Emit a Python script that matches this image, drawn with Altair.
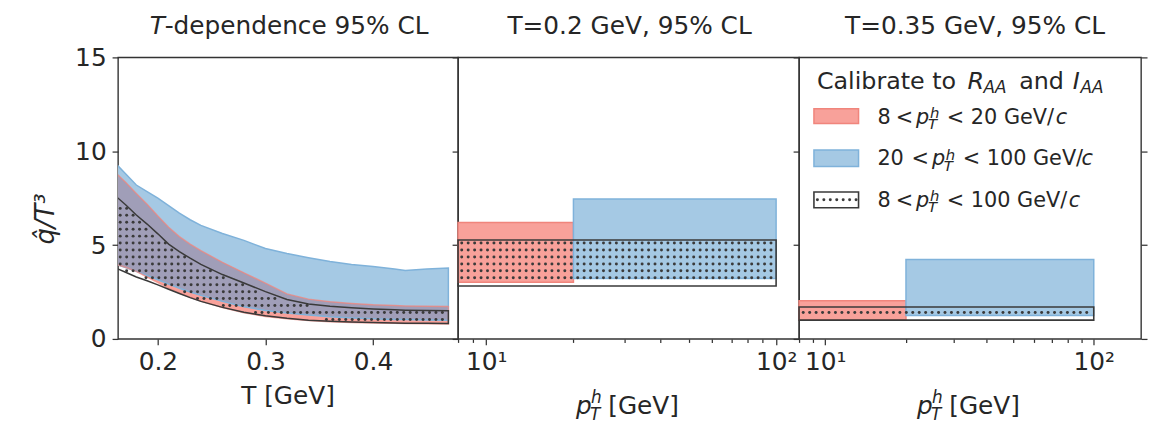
import altair as alt
import numpy as np
import pandas as pd

FONT = "DejaVu Sans"
TXT = "#262626"
FRAME = "#333333"
BLUE_FILL = "#a5c9e4"
BLUE_EDGE = "#7fb2da"
RED_FILL = "#f8a19a"
RED_EDGE = "#f0857c"
OVERLAP = "#a09eb8"
DARK = "#3a3a3a"

W1, W2, W3, H = 343, 344, 345, 284
Y_DOMAIN = [0, 15]
X1_DOMAIN = [0.163, 0.479]
X2_DOMAIN = [8, 120]
X3_DOMAIN = [8, 150]

# ---- panel 1: T dependence (95% CL bands) ----
T = [0.16, 0.17, 0.18, 0.19, 0.20, 0.21, 0.22, 0.23, 0.24, 0.26, 0.28,
     0.30, 0.32, 0.34, 0.36, 0.38, 0.40, 0.42, 0.43, 0.45, 0.47]
blue_hi = [9.4, 8.8, 8.2, 7.85, 7.5, 7.1, 6.7, 6.35, 6.05, 5.62, 5.25,
           4.82, 4.55, 4.33, 4.12, 3.97, 3.86, 3.72, 3.65, 3.73, 3.78]
blue_lo = [4.0, 3.8, 3.6, 3.38, 3.15, 2.92, 2.7, 2.5, 2.32, 2.0, 1.72,
           1.52, 1.38, 1.27, 1.18, 1.12, 1.07, 1.04, 1.03, 1.01, 1.0]
red_hi = [8.9, 8.35, 7.75, 7.18, 6.55, 5.95, 5.45, 5.05, 4.7, 4.08, 3.52,
          2.97, 2.4, 2.12, 1.98, 1.89, 1.82, 1.78, 1.76, 1.74, 1.73]
red_lo = [4.0, 3.82, 3.6, 3.3, 3.0, 2.7, 2.45, 2.22, 2.02, 1.67, 1.4,
          1.2, 1.07, 0.98, 0.92, 0.88, 0.85, 0.83, 0.82, 0.81, 0.8]
all_hi = [7.65, 7.15, 6.6, 6.12, 5.6, 5.05, 4.65, 4.3, 3.97, 3.43, 2.98,
          2.52, 2.1, 1.86, 1.74, 1.66, 1.6, 1.55, 1.53, 1.51, 1.5]
all_lo = [3.8, 3.55, 3.3, 3.1, 2.88, 2.65, 2.42, 2.2, 2.0, 1.68, 1.42,
          1.23, 1.1, 1.0, 0.94, 0.9, 0.87, 0.85, 0.84, 0.83, 0.82]

# ---- panels 2 and 3: pT bins ----
series = ["8-20", "20-100", "8-100"]
bin_lo = [8, 20, 8]
bin_hi = [20, 100, 100]
low_02 = [3.02, 3.22, 2.82]
high_02 = [6.2, 7.45, 5.27]
low_035 = [1.02, 1.25, 1.0]
high_035 = [2.03, 4.23, 1.7]

ONE = pd.DataFrame({"k": [0]})

df1 = pd.DataFrame(dict(T=T, bhi=blue_hi, blo=blue_lo, rhi=red_hi, rlo=red_lo,
                        khi=all_hi, klo=all_lo))
df1["ohi"] = np.minimum(df1.bhi, df1.rhi)
df1["olo"] = np.maximum(df1.blo, df1.rlo)

ys = alt.Scale(domain=Y_DOMAIN, nice=False, zero=False)


def axis_common(**kw):
    base = dict(title=None, grid=False, domain=False, tickColor=FRAME,
                tickWidth=1.25, labelFont=FONT, labelFontSize=25,
                labelColor=TXT)
    base.update(kw)
    return alt.Axis(**base)


yaxis_labels = axis_common(values=[0, 5, 10, 15], tickSize=6, labelPadding=6)
yaxis_ticks = axis_common(values=[0, 5, 10, 15], tickSize=6, labels=False)
yaxis_right = axis_common(values=[0, 5, 10, 15], tickSize=6, labels=False,
                          orient="right")
xaxis1 = axis_common(values=[0.2, 0.3, 0.4], format=".1f", tickSize=6,
                     labelPadding=5)
log_ticks = [8, 9, 10, 20, 30, 40, 50, 60, 70, 80, 90, 100]
xaxis_log = axis_common(
    values=log_ticks,
    labelExpr="datum.value == 10 ? '10\u00b9' : datum.value == 100 ? '10\u00b2' : ''",
    tickSize={"condition": {"test": "datum.value == 10 || datum.value == 100",
                            "value": 6}, "value": 3.5},
    labelPadding=5, labelOverlap=False)


def py_to_val(py):
    return Y_DOMAIN[1] * (1 - py / H)


def hatch(left, W, px2x, lo_fn, hi_fn, xmin, xmax):
    pts = []
    xs_img = np.arange(461.7 - 6.5 * 60, 1150, 6.5)
    xs_img = xs_img[(xs_img > left + 1.5) & (xs_img < left + W - 1.5)]
    eps = 1.6 / (H / Y_DOMAIN[1])
    for yi in np.arange(61.3, 340, 7.0):
        v = py_to_val(yi - 56)
        for xi in xs_img:
            xv = px2x(xi - left)
            if xmin < xv < xmax and lo_fn(xv) + eps < v < hi_fn(xv) - eps:
                pts.append((xv, v))
    return pd.DataFrame(pts, columns=["xv", "yv"])


def lin_conv(d, W):
    return lambda px: d[0] + px / W * (d[1] - d[0])


def log_conv(d, W):
    a, b = np.log10(d[0]), np.log10(d[1])
    return lambda px: 10 ** (a + px / W * (b - a))


def txt(s, x, y, size=25, italic=False, align="left", angle=0):
    return alt.Chart(ONE).mark_text(
        text=s, font=FONT, fontSize=size,
        fontStyle="italic" if italic else "normal", align=align,
        baseline="alphabetic", color=TXT, angle=angle
    ).encode(x=alt.value(x), y=alt.value(y))


def pt_title():
    return [
        txt("p", 119, 359.5, 25, True),
        txt("h", 134, 349, 17, True),
        txt("T", 133, 365.7, 17, True),
        txt("[GeV]", 151.5, 359.5, 25),
    ]


DOT_SIZE = 9

# ---------------- panel 1 ----------------
xs1 = alt.Scale(domain=X1_DOMAIN, nice=False, zero=False)
b1 = alt.Chart(df1)
p1_layers = [
    b1.mark_area(fill=BLUE_FILL, clip=True).encode(
        x=alt.X("T:Q", scale=xs1, axis=xaxis1),
        y=alt.Y("bhi:Q", scale=ys, axis=yaxis_labels), y2="blo:Q"),
    b1.mark_area(fill=RED_FILL, clip=True).encode(
        x=alt.X("T:Q", scale=xs1, axis=None),
        y=alt.Y("rhi:Q", scale=ys, axis=None), y2="rlo:Q"),
    b1.mark_area(fill=OVERLAP, clip=True).encode(
        x=alt.X("T:Q", scale=xs1, axis=None),
        y=alt.Y("ohi:Q", scale=ys, axis=None), y2="olo:Q"),
    b1.mark_area(fillOpacity=0, fill="white", stroke=BLUE_EDGE, strokeWidth=1.5,
                 clip=True).encode(
        x=alt.X("T:Q", scale=xs1, axis=None),
        y=alt.Y("bhi:Q", scale=ys, axis=None), y2="blo:Q"),
    b1.mark_area(fillOpacity=0, fill="white", stroke=RED_EDGE, strokeOpacity=0.7,
                 strokeWidth=1.5, clip=True).encode(
        x=alt.X("T:Q", scale=xs1, axis=None),
        y=alt.Y("rhi:Q", scale=ys, axis=None), y2="rlo:Q"),
]
dots1 = hatch(115, W1, lin_conv(X1_DOMAIN, W1),
              lambda t: np.interp(t, T, all_lo), lambda t: np.interp(t, T, all_hi),
              X1_DOMAIN[0], 0.469)
p1_layers += [
    alt.Chart(dots1).mark_circle(size=DOT_SIZE, color=DARK, opacity=1).encode(
        x=alt.X("xv:Q", scale=xs1, axis=None),
        y=alt.Y("yv:Q", scale=ys, axis=None)),
    b1.mark_area(fillOpacity=0, fill="white", stroke=DARK, strokeWidth=1.5,
                 clip=True).encode(
        x=alt.X("T:Q", scale=xs1, axis=None),
        y=alt.Y("khi:Q", scale=ys, axis=None), y2="klo:Q"),
    txt("T", 32, -23.5, 25, True),
    txt("-dependence 95% CL", 47, -23.5, 25),
    txt("T [GeV]", 171.5, 350, 25, align="center"),
    txt("q\u0302/T\u00b3", -65, 163, 26, True, align="center", angle=270),
]
p1 = alt.layer(*p1_layers).properties(width=W1, height=H).resolve_axis(
    x="independent", y="independent")


# ---------------- panels 2, 3 ----------------
def pt_panel(lows, highs, dom, W, left, title, title_x, right_axis=False,
             legend=False):
    df = pd.DataFrame(dict(s=series, x0=bin_lo, x1=bin_hi, lo=lows, hi=highs))
    xs = alt.Scale(type="log", domain=dom, nice=False)
    b = alt.Chart(df)
    red = b.transform_filter(alt.datum.s == "8-20").mark_rect(
        fill=RED_FILL, stroke=RED_EDGE, strokeWidth=1.5).encode(
        x=alt.X("x0:Q", scale=xs, axis=xaxis_log), x2="x1:Q",
        y=alt.Y("lo:Q", scale=ys, axis=yaxis_ticks), y2="hi:Q")
    blue = b.transform_filter(alt.datum.s == "20-100").mark_rect(
        fill=BLUE_FILL, stroke=BLUE_EDGE, strokeWidth=1.5).encode(
        x=alt.X("x0:Q", scale=xs, axis=None), x2="x1:Q",
        y=alt.Y("lo:Q", scale=ys, axis=None), y2="hi:Q")
    k = b.transform_filter(alt.datum.s == "8-100")
    blk = k.mark_rect(fill="white", fillOpacity=0, stroke=DARK,
                      strokeWidth=1.6).encode(
        x=alt.X("x0:Q", scale=xs, axis=None), x2="x1:Q",
        y=alt.Y("lo:Q", scale=ys, axis=yaxis_right if right_axis else None),
        y2="hi:Q")
    dd = hatch(left, W, log_conv(dom, W), lambda x: lows[2], lambda x: highs[2],
               bin_lo[2] * 1.005, bin_hi[2] * 0.99)
    dots = alt.Chart(dd).mark_circle(size=DOT_SIZE, color=DARK, opacity=1).encode(
        x=alt.X("xv:Q", scale=xs, axis=None),
        y=alt.Y("yv:Q", scale=ys, axis=None))
    layers = [red, blue, dots, blk]
    layers += pt_title()
    layers.append(txt(title, title_x, -23.5, 25, align="center"))
    if legend:
        conv = log_conv(dom, W)
        lx = np.arange(18.5, 58, 6.5)
        ldots = pd.DataFrame({"xv": [conv(p) for p in lx],
                              "yv": [py_to_val(143.7)] * len(lx)})
        layers += [
            alt.Chart(ONE).mark_rect(fill=RED_FILL, stroke=RED_EDGE, strokeWidth=1.5).encode(
                x=alt.value(15), x2=alt.value(60), y=alt.value(51.7), y2=alt.value(66.7)),
            alt.Chart(ONE).mark_rect(fill=BLUE_FILL, stroke=BLUE_EDGE, strokeWidth=1.5).encode(
                x=alt.value(15), x2=alt.value(60), y=alt.value(93.3), y2=alt.value(110)),
            alt.Chart(ONE).mark_rect(fill="white", fillOpacity=0, stroke=DARK, strokeWidth=1.6).encode(
                x=alt.value(15), x2=alt.value(60), y=alt.value(135.7), y2=alt.value(151.7)),
            alt.Chart(ldots).mark_circle(size=DOT_SIZE, color=DARK, opacity=1).encode(
                x=alt.X("xv:Q", scale=xs, axis=None),
                y=alt.Y("yv:Q", scale=ys, axis=None)),
            # legend title
            txt("Calibrate to", 18, 32.3, 24),
            txt("R", 170, 32.3, 24, True),
            txt("AA", 186, 35.8, 17, True),
            txt("and", 222, 32.3, 24),
            txt("I", 276, 32.3, 24, True),
            txt("AA", 284, 35.8, 17, True),
        ]
        rows = [
            (66.7, "8", "< 20 GeV/", 0, 258),
            (109.0, "20", "< 100 GeV/", 16, 284),
            (150.7, "8", "< 100 GeV/", 0, 271),
        ]
        for base_y, pre, post, shift, cx in rows:
            layers += [
                txt(pre, 79, base_y, 21),
                txt("<", 97.5 + shift, base_y, 21),
                txt("p", 118 + shift, base_y, 21, True),
                txt("h", 132 + shift, base_y - 6, 15, True),
                txt("T", 130 + shift, base_y + 5.6, 15, True),
                txt(post, 149 + shift, base_y, 21),
                txt("c", cx + 1, base_y, 21, True),
            ]
    ch = alt.layer(*layers).properties(width=W, height=H).resolve_axis(
        x="independent", y="independent")
    return ch


p2 = pt_panel(low_02, high_02, X2_DOMAIN, W2, 458, "T=0.2 GeV, 95% CL", 173)
p3 = pt_panel(low_035, high_035, X3_DOMAIN, W3, 802, "T=0.35 GeV, 95% CL",
              177.5, right_axis=True, legend=True)

chart = alt.hconcat(p1, p2, p3, spacing=0, bounds="flush").properties(
    padding={"left": 24, "top": 3, "right": 0, "bottom": 0}
).configure(font=FONT, background="white").configure_view(
    stroke=FRAME, strokeWidth=1.4)

chart.save("out.html", embed_options={"renderer": "svg", "actions": False})
